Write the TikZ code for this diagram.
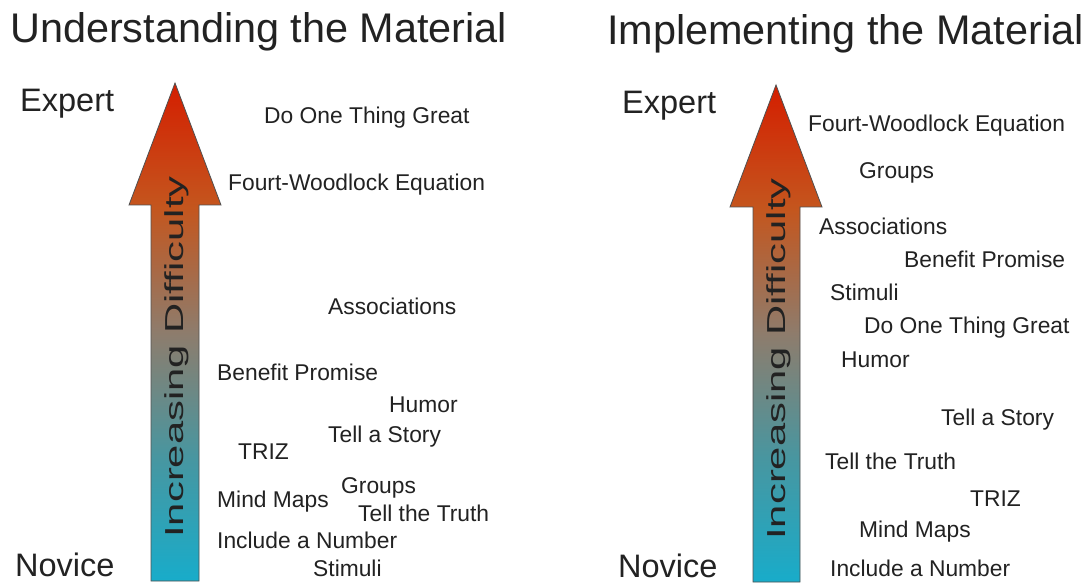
\documentclass[tikz,border=0pt]{standalone}
\usepackage{fontspec}
\setmainfont{Liberation Sans}
\definecolor{cCyan}{RGB}{24,172,202}
\definecolor{cTeal}{RGB}{72,150,160}
\definecolor{cMid}{RGB}{142,124,108}
\definecolor{cOr}{RGB}{196,86,30}
\definecolor{cRed}{RGB}{212,30,0}
\definecolor{txt}{RGB}{34,34,34}
\definecolor{edge}{RGB}{80,80,80}
\pgfdeclareverticalshading{diffshade}{100bp}{color(0bp)=(cCyan); color(25bp)=(cCyan); color(37.5bp)=(cTeal); color(50bp)=(cMid); color(62.5bp)=(cOr); color(75bp)=(cRed); color(100bp)=(cRed)}
\tikzset{
  item/.style={anchor=west, inner sep=0pt, text=txt, font=\fontsize{22.8}{24}\selectfont, text height=16pt, text depth=0pt},
  level/.style={anchor=west, inner sep=0pt, text=txt, font=\fontsize{32.5}{34}\selectfont, text height=23pt, text depth=0pt},
  heading/.style={anchor=west, inner sep=0pt, text=txt, font=\fontsize{41.4}{44}\selectfont, text height=29pt, text depth=0pt},
  axislabel/.style={inner sep=0pt, text=txt, rotate=90, text height=18.6pt, text depth=0pt, font=\fontsize{26}{28}\selectfont},
  bigarrow/.style={shading=diffshade, draw=edge, line width=0.8pt, line join=miter}
}
\begin{document}
\begin{tikzpicture}[x=1pt,y=-1pt]
\useasboundingbox[fill=white] (0,0) rectangle (1089,585);
% headings
\node[heading] (t1) at (10,28) {Understanding the Material};
\node[heading] (t2) at (607,30) {Implementing the Material};
% levels
\node[level] (e1) at (20,100) {Expert};
\node[level] (n1) at (15,565) {Novice};
\node[level] (e2) at (622,102) {Expert};
\node[level] (n2) at (618,566) {Novice};
% arrows
\path[bigarrow] (175,83) -- (221,205) -- (199,205) -- (199,581) -- (151,581) -- (151,205) -- (129,205) -- cycle;
\node[axislabel] (a1) at (174.5,357) {\scalebox{1.606}[1]{Increasing Difficulty}};
\path[bigarrow] (776,85) -- (822,207) -- (800,207) -- (800,582) -- (753,582) -- (753,207) -- (730,207) -- cycle;
\node[axislabel] (a2) at (776,359) {\scalebox{1.606}[1]{Increasing Difficulty}};
% left items
\node[item] (l1) at (264,116) {Do One Thing Great};
\node[item] (l2) at (228,183) {Fourt-Woodlock Equation};
\node[item] (l3) at (328,306) {Associations};
\node[item] (l4) at (217,372) {Benefit Promise};
\node[item] (l5) at (389,404) {Humor};
\node[item] (l6) at (328,434) {Tell a Story};
\node[item] (l7) at (238,451) {TRIZ};
\node[item] (l8) at (217,499) {Mind Maps};
\node[item] (l9) at (341,485) {Groups};
\node[item] (l10) at (358,513) {Tell the Truth};
\node[item] (l11) at (217,540) {Include a Number};
\node[item] (l12) at (313,568) {Stimuli};
% right items
\node[item] (r1) at (808,124) {Fourt-Woodlock Equation};
\node[item] (r2) at (859,171) {Groups};
\node[item] (r3) at (819,227) {Associations};
\node[item] (r4) at (904,260) {Benefit Promise};
\node[item] (r5) at (830,292) {Stimuli};
\node[item] (r6) at (864,325) {Do One Thing Great};
\node[item] (r7) at (841,359) {Humor};
\node[item] (r8) at (941,417) {Tell a Story};
\node[item] (r9) at (825,461) {Tell the Truth};
\node[item] (r10) at (970,498) {TRIZ};
\node[item] (r11) at (859,529) {Mind Maps};
\node[item] (r12) at (830,568) {Include a Number};
\end{tikzpicture}
\end{document}
